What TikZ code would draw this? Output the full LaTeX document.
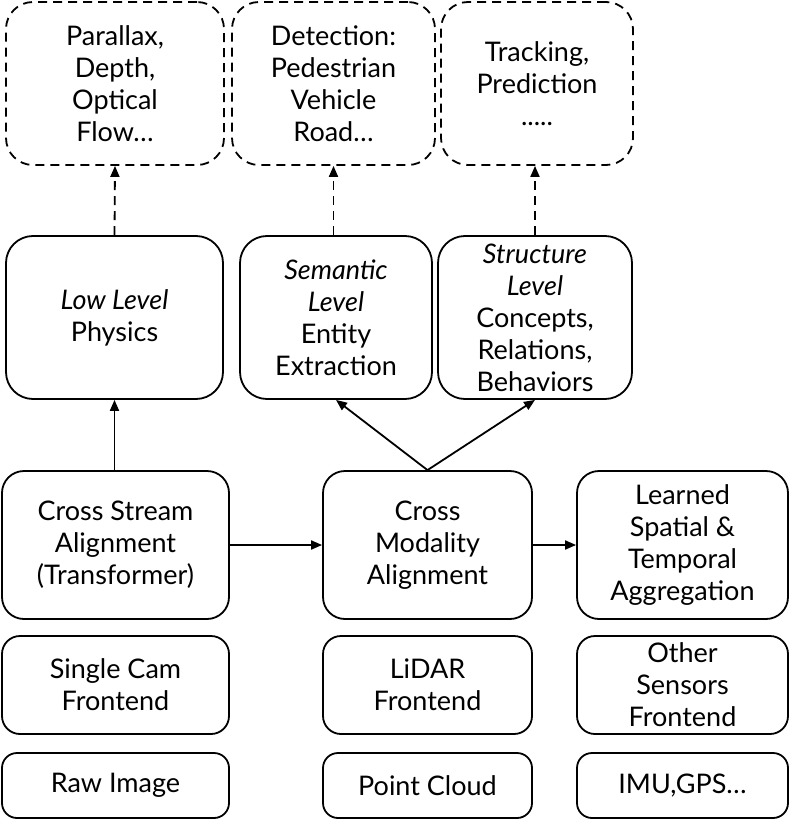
\documentclass[tikz,border=0pt]{standalone}
\usepackage{fontspec}
\setmainfont{Lato}
\usetikzlibrary{arrows.meta}

\begin{document}
\begin{tikzpicture}[x=1pt, y=-1pt,
   font=\fontsize{27}{32}\selectfont,
   blok/.style={draw, line width=1.8pt, rounded corners=27pt, align=center, inner sep=0pt},
   taak/.style={blok, dash pattern=on 9pt off 6pt},
   pijl/.style={line width=1.8pt, -{Triangle[length=11pt,width=9pt]}},
   stippelpijl/.style={pijl, dash pattern=on 9pt off 6pt}
   ]
   \useasboundingbox (0,0) rectangle (789,821);
   % bovenste rij: taken
   \node [taak, minimum width=218pt, minimum height=163pt] (parallax) at (115,83.5)
      {Parallax,\\Depth,\\Optical\\Flow\ldots};
   \node [taak, minimum width=203pt, minimum height=163pt] (detectie) at (333.5,83.5)
      {Detection:\\Pedestrian\\Vehicle\\Road\ldots};
   \node [taak, minimum width=192pt, minimum height=163pt] (tracking) at (537,83.5)
      {Tracking,\\Prediction\\.....};
   % niveaus
   \node [blok, minimum width=217pt, minimum height=163pt] (laag) at (114.5,317.5)
      {\textit{Low Level}\\Physics};
   \node [blok, minimum width=192pt, minimum height=163pt] (semantisch) at (336,317.5)
      {\textit{Semantic}\\\textit{Level}\\Entity\\Extraction};
   \node [blok, minimum width=194pt, minimum height=163pt] (structuur) at (535,317.5)
      {\textit{Structure}\\\textit{Level}\\Concepts,\\Relations,\\Behaviors};
   % uitlijning
   \node [blok, rounded corners=22pt, minimum width=227pt, minimum height=148pt] (stroom) at (115.5,545)
      {Cross Stream\\Alignment\\(Transformer)};
   \node [blok, rounded corners=22pt, minimum width=209pt, minimum height=148pt] (modaliteit) at (427.5,545)
      {Cross\\Modality\\Alignment};
   \node [blok, rounded corners=22pt, minimum width=211pt, minimum height=148pt] (aggregatie) at (682.5,545)
      {Learned\\Spatial \&\\Temporal\\Aggregation};
   % frontends
   \node [blok, rounded corners=18pt, minimum width=227pt, minimum height=98pt] (camfront) at (115.5,685)
      {Single Cam\\Frontend};
   \node [blok, rounded corners=18pt, minimum width=209pt, minimum height=98pt] (lidarfront) at (427.5,685)
      {LiDAR\\Frontend};
   \node [blok, rounded corners=18pt, minimum width=211pt, minimum height=98pt] (overigfront) at (682.5,685)
      {Other\\Sensors\\Frontend};
   % ruwe data
   \node [blok, rounded corners=15pt, minimum width=227pt, minimum height=65pt] (beeld) at (115.5,785.5)
      {Raw Image};
   \node [blok, rounded corners=15pt, minimum width=209pt, minimum height=65pt] (wolk) at (427.5,785.5)
      {Point Cloud};
   \node [blok, rounded corners=15pt, minimum width=211pt, minimum height=65pt] (imu) at (682.5,785.5)
      {IMU,GPS\ldots};
   % verbindingen
   \draw[stippelpijl] (laag.north) -- (parallax.south);
   \draw[stippelpijl] (semantisch.north -| detectie.south) -- (detectie.south);
   \draw[stippelpijl] (structuur.north) -- (structuur.north |- tracking.south);
   \draw[pijl] (stroom.north -| laag.south) -- (laag.south);
   \draw[pijl] (modaliteit.north) -- (semantisch.south);
   \draw[pijl] (modaliteit.north) -- (structuur.south);
   \draw[pijl] (stroom.east) -- (modaliteit.west);
   \draw[pijl] (modaliteit.east) -- (aggregatie.west);
\end{tikzpicture}
\end{document}
